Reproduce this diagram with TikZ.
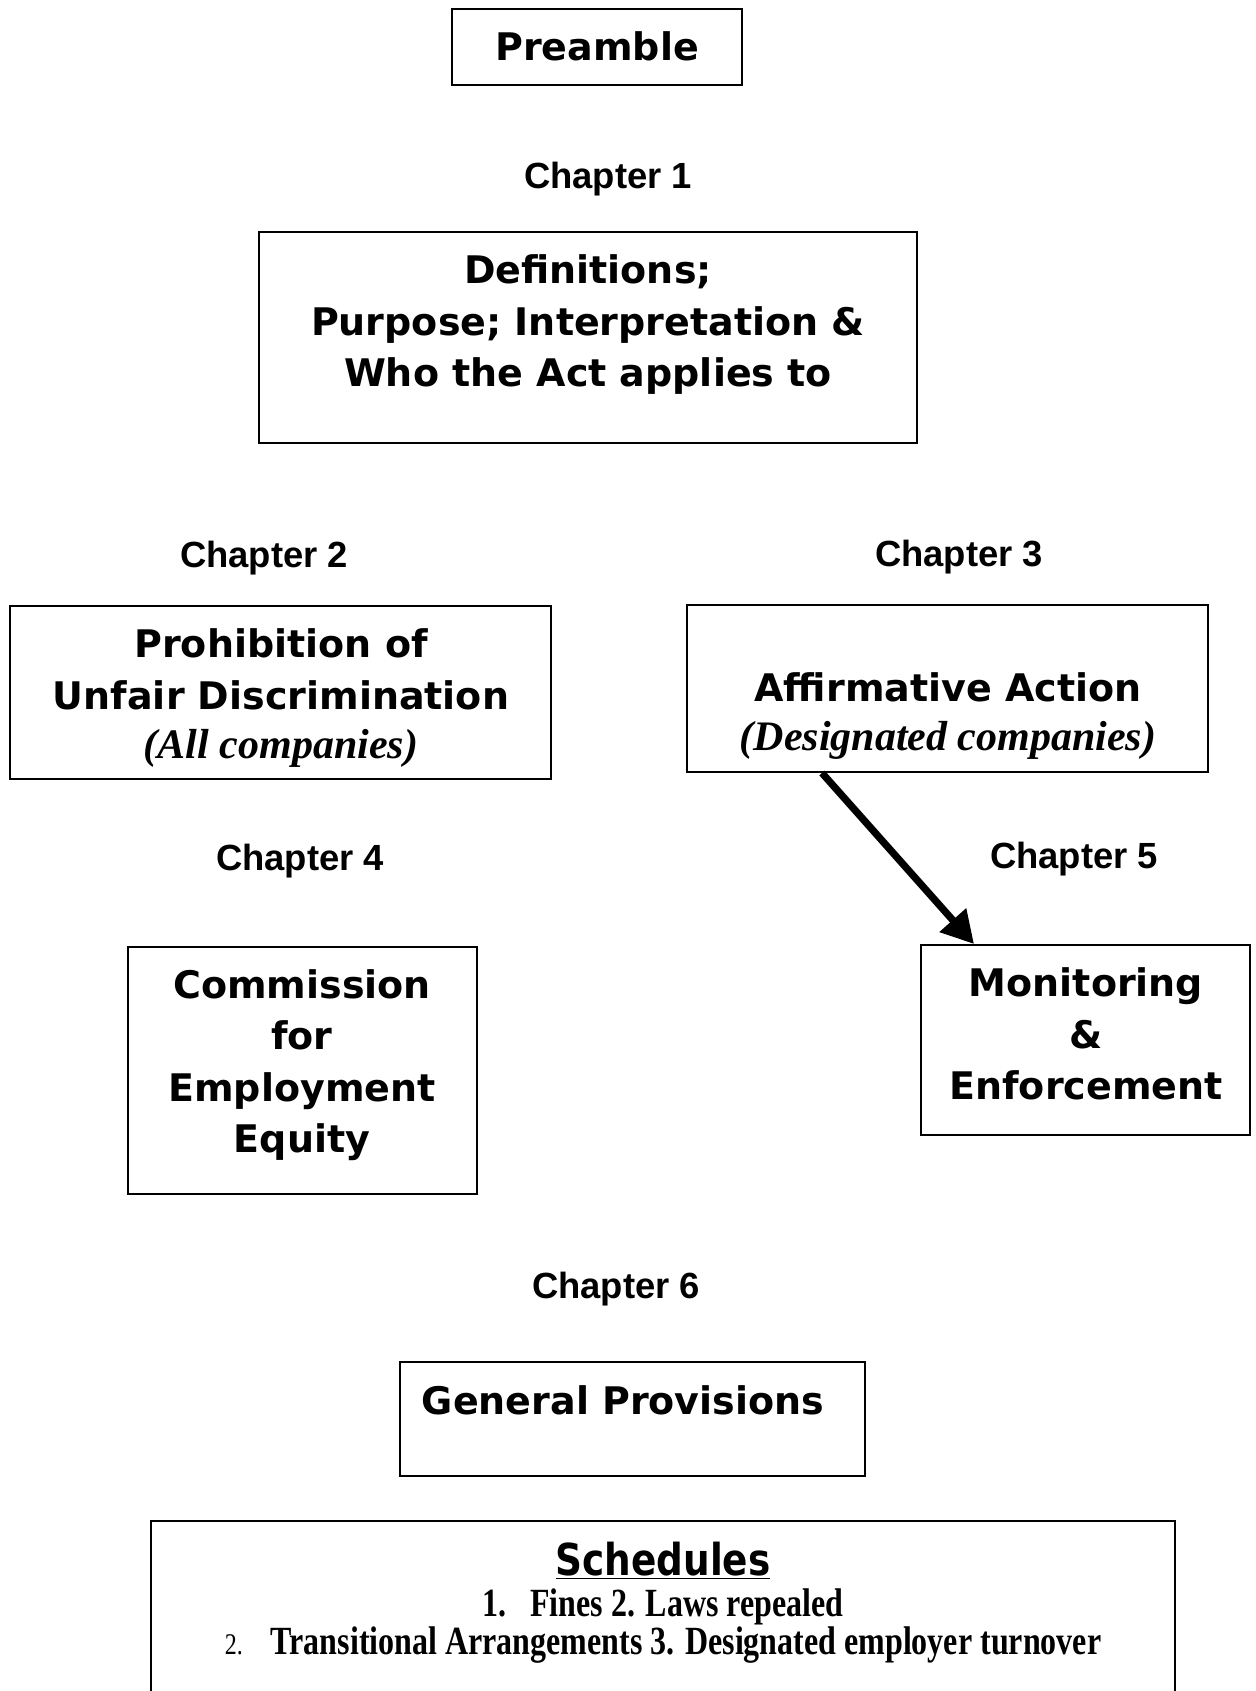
\documentclass[tikz,border=0pt]{standalone}
\usepackage{fontspec}
\usetikzlibrary{arrows.meta}
\newfontfamily\vfont{DejaVu Sans}
\newfontfamily\afont{Liberation Sans}
\newfontfamily\tfont{Liberation Serif}
\newfontfamily\sfontc{DejaVu Sans}[FakeStretch=0.85]
\newfontfamily\tfontc{Liberation Serif}[FakeStretch=0.8]
\tikzset{
  box/.style={draw, line width=1pt, rectangle, inner sep=0pt},
  boxtext/.style={align=center, inner sep=0pt, font=\vfont\bfseries\fontsize{19}{25.75}\selectfont},
  chap/.style={inner sep=0pt, font=\afont\bfseries\fontsize{18.2}{22}\selectfont},
  bigarrow/.style={line width=3.6pt, -{Triangle[length=16pt,width=17pt]}}
}
\begin{document}
\begin{tikzpicture}[x=0.5pt,y=-0.5pt]
\useasboundingbox (0,0) rectangle (1256,1691);
\clip (0,0) rectangle (1256,1691);
\fill[white] (0,0) rectangle (1256,1691);
% boxes
\node[box, minimum width=145pt, minimum height=38pt] (pre) at (597,47) {};
\node[box, minimum width=329pt, minimum height=105.5pt] (def) at (588,337.5) {};
\node[box, minimum width=270.5pt, minimum height=86.5pt] (pro) at (280.5,692.5) {};
\node[box, minimum width=260.5pt, minimum height=83.5pt] (aa) at (947.5,688.5) {};
\node[box, minimum width=174.5pt, minimum height=123.5pt] (com) at (302.5,1070.5) {};
\node[box, minimum width=164.5pt, minimum height=95pt] (me) at (1085.5,1040) {};
\node[box, minimum width=232.5pt, minimum height=57pt] (gp) at (632.5,1419) {};
\node[box, minimum width=512pt, minimum height=95pt] (sch) at (663,1615.5) {};
% texts
\node[boxtext] (preT) at (597,46) {Preamble};
\node[chap] (ch1) at (608,179.3) {Chapter 1};
\node[boxtext] (defT) at (588,324.7) {Definitions;\\Purpose; Interpretation \&\\Who the Act applies to};
\node[chap] (ch2) at (264,558.3) {Chapter 2};
\node[chap] (ch3) at (959,557.3) {Chapter 3};
\node[boxtext] (proT) at (281,698.3) {Prohibition of\\Unfair Discrimination\\[-1pt]{\tfont\bfseries\itshape\fontsize{21}{24}\selectfont (All companies)}};
\node[boxtext] (aaT) at (948,716) {Affirmative Action\\[-1pt]{\tfont\bfseries\itshape\fontsize{21}{24}\selectfont (Designated companies)}};
\node[chap] (ch4) at (300,861.3) {Chapter 4};
\node[chap] (ch5) at (1074,859.3) {Chapter 5};
\node[boxtext] (comT) at (302,1065.3) {Commission\\for\\Employment\\Equity};
\node[boxtext] (meT) at (1086,1034) {Monitoring\\\&\\Enforcement};
\node[chap] (ch6) at (616,1289.3) {Chapter 6};
\node[boxtext] (gpT) at (623,1400) {General Provisions};
\node[inner sep=0pt, font=\sfontc\bfseries\fontsize{22}{26}\selectfont] (schT) at (663,1561) {\underline{Schedules}};
\node[inner sep=0pt, font=\tfontc\bfseries\fontsize{20}{24}\selectfont] (sch1) at (663,1607.3) {1.\hspace{12pt}Fines 2. Laws repealed};
\node[inner sep=0pt, font=\tfontc\bfseries\fontsize{20}{24}\selectfont] (sch2) at (663,1645.3) {{\mdseries\fontsize{15}{18}\selectfont 2.}\hspace{14pt}Transitional Arrangements 3. Designated employer turnover};
% arrow
\draw[bigarrow] ([xshift=68pt]aa.south west) -- ([xshift=27pt]me.north west);
\end{tikzpicture}
\end{document}
